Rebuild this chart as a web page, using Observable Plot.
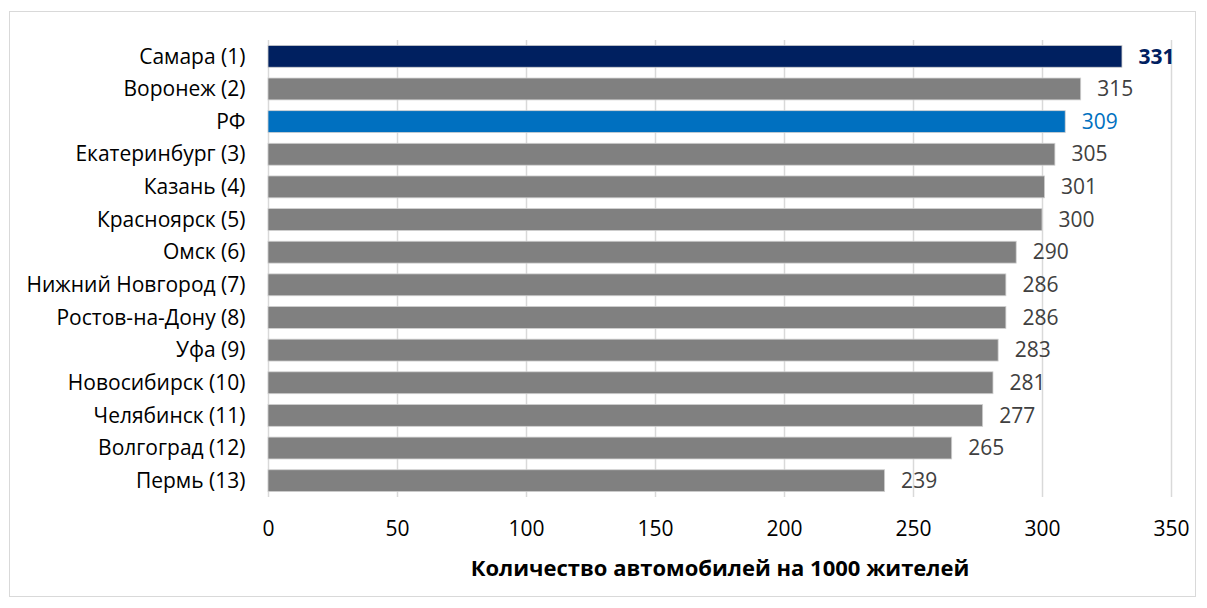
<!DOCTYPE html>
<html>
<head>
<meta charset="utf-8">
<script src="https://cdn.jsdelivr.net/npm/d3@7"></script>
<script src="https://cdn.jsdelivr.net/npm/@observablehq/plot@0.6"></script>
<style>
  html, body { margin: 0; padding: 0; background: #fff; }
  #wrap { position: relative; width: 1207px; height: 608px; }
  #frame { position: absolute; left: 9px; top: 11px; width: 1187px; height: 586px; border: 1px solid #d9d9d9; box-sizing: border-box; pointer-events: none; }
  #chart { position: absolute; left: 0; top: 0; }
</style>
</head>
<body>
<div id="wrap"><div id="chart"></div><div id="frame"></div></div>
<script>
const categories = ["Самара (1)", "Воронеж (2)", "РФ", "Екатеринбург (3)", "Казань (4)", "Красноярск (5)", "Омск (6)", "Нижний Новгород (7)", "Ростов-на-Дону (8)", "Уфа (9)", "Новосибирск (10)", "Челябинск (11)", "Волгоград (12)", "Пермь (13)"];
const values = [331, 315, 309, 305, 301, 300, 290, 286, 286, 283, 281, 277, 265, 239];
const xTicks = [0, 50, 100, 150, 200, 250, 300, 350];
const axisTitle = "Количество автомобилей на 1000 жителей";
const leader = "Самара (1)";
const national = "РФ";

const barColor = d => d.name === leader ? "#002060" : d.name === national ? "#0070C0" : "#808080";
const labelColor = d => d.name === national ? "#0070C0" : "#404040";

const data = categories.map((name, i) => ({name, value: values[i]}));
const leaderData = data.filter(d => d.name === leader);
const otherData = data.filter(d => d.name !== leader);
const font = "Open Sans, sans-serif";

const chart = Plot.plot({
  width: 1207,
  height: 608,
  marginLeft: 268,
  marginRight: 36,
  marginTop: 40,
  marginBottom: 111,
  style: {fontFamily: font, fontSize: "21px", color: "#000", background: "transparent"},
  x: {domain: [0, 350], ticks: xTicks},
  y: {domain: categories, paddingInner: 0.33, paddingOuter: 0.165, round: false},
  marks: [
    Plot.gridX(xTicks, {stroke: "#d9d9d9", strokeOpacity: 1, strokeWidth: 1.5}),
    Plot.barX(data, {y: "name", x: "value", fill: barColor, stroke: "#d0d0d0", strokeWidth: 0.8}),
    Plot.text(otherData, {y: "name", x: "value", text: d => String(d.value), textAnchor: "start", dx: 16,
      fill: labelColor, fontSize: 21}),
    Plot.text(leaderData, {y: "name", x: "value", text: d => String(d.value), textAnchor: "start", dx: 16,
      fill: "#002060", fontWeight: "bold", fontSize: 21}),
    Plot.axisX({ticks: xTicks, tickSize: 0, tickPadding: 24, label: null, fontSize: 21, fill: "#000"}),
    Plot.axisY({tickSize: 0, tickPadding: 23, label: null, fontSize: 21, fill: "#000"}),
    Plot.text([axisTitle], {text: d => d, frameAnchor: "bottom", dy: 78, fontWeight: "bold", fontSize: 22, fill: "#000"})
  ]
});
document.getElementById("chart").appendChild(chart);
</script>
</body>
</html>
